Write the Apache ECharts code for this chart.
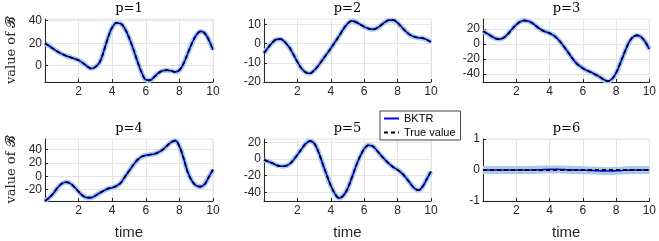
<!DOCTYPE html>
<html><head><meta charset="utf-8">
<script src="https://cdn.jsdelivr.net/npm/echarts@6/dist/echarts.min.js"></script>
<style>html,body{margin:0;padding:0;background:#fff}#c{width:659px;height:241px}</style>
</head><body><div id="c"></div>
<script>
// ---- data ----
const time = [0,0.25,0.5,0.75,1,1.25,1.5,1.75,2,2.25,2.5,2.75,3,3.25,3.5,3.75,4,4.25,4.5,4.75,5,5.25,5.5,5.75,6,6.25,6.5,6.75,7,7.25,7.5,7.75,8,8.25,8.5,8.75,9,9.25,9.5,9.75,10];
const titles = ['p=1','p=2','p=3','p=4','p=5','p=6'];
const trueP1 = [20,17.5,15,12.5,10.5,8.8,7.5,6.2,4.8,2.5,-0.5,-2.5,-1,3,13,25,34,38,37.5,33,25,15,4,-6,-12.5,-13,-10,-6.5,-4.5,-4,-4.5,-5.5,-4,2,11,20,27,30.5,29,23,14];
const trueP2 = [-5,-2,0.5,2.2,2.3,0.8,-1.8,-5.5,-9.5,-13,-15,-15.5,-14,-11.5,-8.5,-5.5,-2.5,0.8,4,7.5,10.3,11.8,11.2,10,8.8,7.8,7.4,8,9.5,11.2,12.2,12.2,10.8,8.5,6.3,4.5,3.5,3,2.8,2,0.8];
const trueP3 = [17,14,10.5,7.5,6.5,8.5,13.5,20,26,30,31.5,30.5,27.5,23,19,16.5,14.5,11.5,6.5,0,-7.5,-15.5,-23,-28.5,-32.5,-35.5,-38,-41,-44,-47.5,-50,-47,-39,-26,-12,1,9,11.5,9.5,3,-7];
const trueP4 = [-37,-32,-25.5,-17,-11,-8.8,-10.5,-16,-23,-29,-32,-32,-29,-25,-21.5,-18.5,-17,-14.5,-10,-1,8,17,24.5,29.5,31.5,32.5,33.5,36,40,45.5,51,53.5,45,27,6,-7,-14,-15.5,-12,-1,10];
const trueP5 = [-1,-3,-5,-7.5,-8.7,-8.5,-6.5,-1.5,5,12,18.5,21.5,19,9,-5,-19,-32,-42,-47,-44,-36,-23,-9,3,12,16.5,15.5,10.5,4.5,-1,-6,-10,-13,-17,-22.5,-29,-35,-37.5,-33,-24,-15];
const trueP6 = [0,0,0,0,0,0,0,0,0,0,0,0,0,0,0,0,0,0,0,0,0,0,0,0,0,0,0,0,0,0,0,0,0,0,0,0,0,0,0,0,0];
const estP1 = trueP1, estP2 = trueP2, estP3 = trueP3, estP4 = trueP4, estP5 = trueP5;
const estP6 = [0,0,0,0,0,0,0,0,0,0,0,0,0,0.005,0.01,0.015,0.02,0.02,0.02,0.015,0.01,0.005,0,0,-0.005,-0.01,-0.015,-0.02,-0.025,-0.03,-0.03,-0.03,-0.025,-0.02,-0.01,-0.005,0,0,0,0,0];
const yTicks = [[0,20,40],[-20,-10,0,10],[-40,-20,0,20],[-20,0,20,40],[-40,-20,0,20],[-1,0,1]];
const yLimits = [[-14.5,41.5],[-20,12.8],[-51,33.5],[-37,56],[-50.5,24],[-1,1]];
const xTicks = [2,4,6,8,10];
const seriesNames = ['BKTR','True value'];
const yLabel = 'value of 𝓑';
const xLabel = 'time';

const trueData = [trueP1,trueP2,trueP3,trueP4,trueP5,trueP6];
const estData = [estP1,estP2,estP3,estP4,estP5,estP6];

// ---- layout ----
const lefts = [45, 264, 483];
const widths = [168, 167, 167];
const tops = [19, 139];
const H = 63;
const tickColor = '#262626';
const gridColor = '#e4e4e4';
const sans = 'Liberation Sans';

const zip = a => time.map((t,i)=>[t,a[i]]);
const grids=[], xAxes=[], yAxes=[], series=[], graphics=[];
for (let i=0;i<6;i++){
  const r = Math.floor(i/3), c = i%3;
  grids.push({left:lefts[c], top:tops[r], width:widths[c], height:H, show:true, borderColor:gridColor, borderWidth:1, backgroundColor:'transparent'});
  xAxes.push({type:'value', gridIndex:i, min:0, max:10,
    axisLine:{show:true,onZero:false,lineStyle:{color:tickColor,width:1}},
    axisTick:{show:true,inside:true,length:3,customValues:xTicks,lineStyle:{color:tickColor}},
    axisLabel:{customValues:xTicks,fontSize:12,color:tickColor,fontFamily:sans,margin:4},
    splitLine:{show:true,lineStyle:{color:gridColor,width:1}},
    name: r===1?xLabel:'', nameLocation:'middle', nameGap:24,
    nameTextStyle:{fontFamily:sans,fontSize:15,color:tickColor}
  });
  yAxes.push({type:'value', gridIndex:i, min:yLimits[i][0], max:yLimits[i][1],
    axisLine:{show:true,onZero:false,lineStyle:{color:tickColor,width:1}},
    axisTick:{show:true,inside:true,length:3,customValues:yTicks[i],lineStyle:{color:tickColor}},
    axisLabel:{customValues:yTicks[i],fontSize:12,color:tickColor,fontFamily:sans,margin:3},
    splitLine:{show:true,lineStyle:{color:gridColor,width:1}},
    name: c===0?yLabel:'', nameLocation:'middle', nameRotate:90, nameGap:27,
    nameTextStyle:{fontFamily:'DejaVu Serif',fontSize:13,color:tickColor}
  });
  series.push({type:'line', name:'band'+i, xAxisIndex:i, yAxisIndex:i, data:zip(estData[i]), symbol:'none', smooth:0.35, silent:true, z:1,
    lineStyle:{width:i===5?8:5,color:'#a9cbeb'}});
  series.push({type:'line', name:seriesNames[0], xAxisIndex:i, yAxisIndex:i, data:zip(estData[i]), symbol:'none', smooth:0.35, z:2,
    itemStyle:{color:'#0000ff'}, lineStyle:{width:1.6,color:'#0000ff'}});
  series.push({type:'line', name:seriesNames[1], xAxisIndex:i, yAxisIndex:i, data:zip(trueData[i]), symbol:'none', smooth:0.35, z:3,
    itemStyle:{color:'#000'}, lineStyle:{width:1.8,color:'#000',type:[4,3]}});
  graphics.push({type:'text', x:lefts[c]+widths[c]/2, y:tops[r]-17, style:{text:titles[i], textAlign:'center', textVerticalAlign:'top', font:'13px "DejaVu Serif"', fill:'#000'}});
}
const chart = echarts.init(document.getElementById('c'), null, {renderer:'canvas'});
chart.setOption({
  animation:false,
  grid:grids, xAxis:xAxes, yAxis:yAxes, series:series, graphic:graphics,
  legend:{data:seriesNames, orient:'vertical', left:380, top:111, itemWidth:15, itemHeight:10, itemGap:3,
    padding:[2,5,2,3], borderColor:'#444', borderWidth:1, backgroundColor:'#fff',
    itemStyle:{color:'transparent',borderColor:'transparent',borderWidth:0,opacity:0},
    textStyle:{fontSize:11,fontFamily:sans,color:'#000'}}
});
</script></body></html>
